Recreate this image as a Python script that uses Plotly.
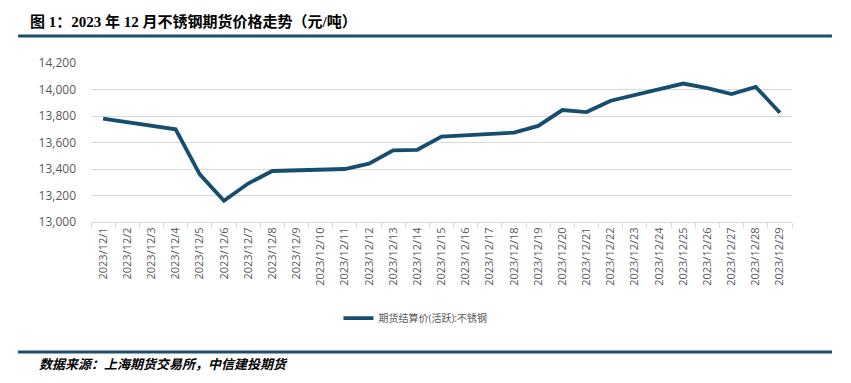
import plotly.graph_objects as go

dates = [f"2023/12/{d}" for d in range(1, 30)]
# settlement price (active contract), None on non-trading days
prices = [13780, None, None, 13700, 13360, 13160, 13290, 13385, None, None,
          13400, 13440, 13540, 13545, 13645, None, None, 13675, 13725, 13845,
          13830, 13915, None, None, 14045, 14010, 13965, 14020, 13825]
series_name = "期货结算价(活跃):不锈钢"
title_text = "图 1：2023 年 12 月不锈钢期货价格走势（元/吨）"
source_text = "数据来源：上海期货交易所，中信建投期货"
y_ticks = [13000, 13200, 13400, 13600, 13800, 14000, 14200]

dark = "#154E6E"
fig = go.Figure()
fig.add_trace(go.Scatter(x=dates, y=prices, mode="lines", name=series_name,
                         connectgaps=True,
                         line=dict(color=dark, width=3.8)))

fig.update_layout(
    width=851, height=383,
    margin=dict(l=91, r=59, t=63, b=161),
    paper_bgcolor="white", plot_bgcolor="white",
    font=dict(family="Open Sans, Noto Sans CJK SC", color="#595959", size=12),
    showlegend=True,
    legend=dict(orientation="h", x=0.353, xanchor="left", y=-0.604, yanchor="middle",
                font=dict(size=10, color="#595959"), itemwidth=30),
    xaxis=dict(type="category", categoryorder="array", categoryarray=dates,
               tickangle=-90, tickfont=dict(size=11, color="#595959"),
               showgrid=False, showline=True, linecolor="#D9D9D9",
               ticks="outside", tickson="boundaries", ticklen=5, tickcolor="#D9D9D9",
               range=[-0.5, 28.5]),
    yaxis=dict(range=[13000, 14200], tickvals=y_ticks, tickformat=",",
               showgrid=True, gridcolor="#D9D9D9", gridwidth=1,
               zeroline=False, showline=False, ticks="",
               tickfont=dict(size=12, color="#595959"), ticklabelstandoff=14),
)

shapes = [
    dict(type="line", xref="paper", yref="paper", x0=-0.104, x1=1.057, y0=1.170, y1=1.170,
         line=dict(color="#1B4F6B", width=3)),
    dict(type="line", xref="paper", yref="paper", x0=-0.104, x1=1.057, y0=-0.818, y1=-0.818,
         line=dict(color="#1B4F6B", width=3)),
]
fig.update_layout(shapes=shapes)

fig.add_annotation(text=f"<b>{title_text}</b>", xref="paper", yref="paper",
                   x=-0.090, y=1.258, xanchor="left", yanchor="middle", showarrow=False,
                   font=dict(family="Liberation Serif, Noto Sans CJK SC", size=15, color="black"))
fig.add_annotation(text=f"<b><i>{source_text}</i></b>", xref="paper", yref="paper",
                   x=-0.077, y=-0.899, xanchor="left", yanchor="middle", showarrow=False,
                   font=dict(family="Liberation Serif, Noto Sans CJK SC", size=13, color="black"))

fig.write_html("out.html", config={"displayModeBar": False},
               post_script="document.body.style.margin='0';")
